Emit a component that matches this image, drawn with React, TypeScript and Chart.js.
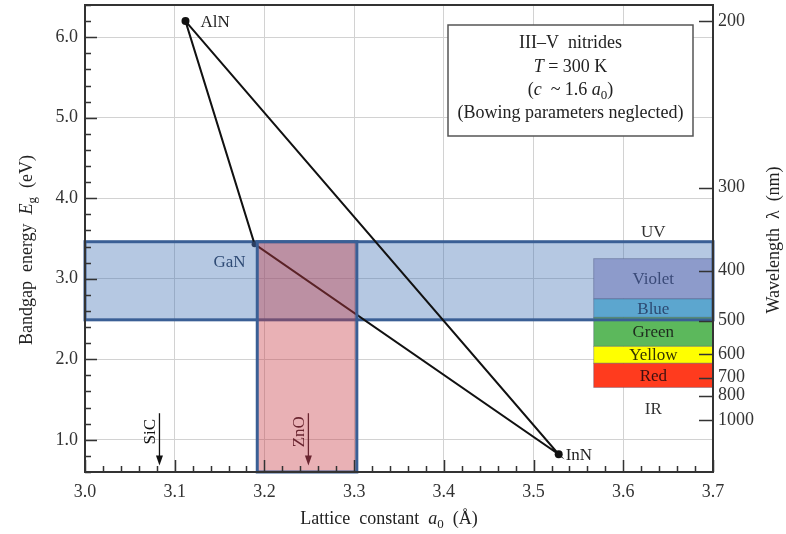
import React, { useEffect, useRef } from "react";
import { Chart, registerables } from "chart.js";

Chart.register(...registerables);

// ---- data ----
const materials = ["AlN", "GaN", "InN"];
const latticeA = [3.112, 3.189, 3.528];
const bandgapEg = [6.2, 3.43, 0.82];

const xTicks = [3.0, 3.1, 3.2, 3.3, 3.4, 3.5, 3.6, 3.7];
const yTicks = [1.0, 2.0, 3.0, 4.0, 5.0, 6.0];
const wavelengthTicks = [200, 300, 400, 500, 600, 700, 800, 1000];

const spectrumNames = ["Violet", "Blue", "Green", "Yellow", "Red"];
const spectrumTopEg = [3.25, 2.75, 2.52, 2.16, 1.95];
const spectrumBottomEg = [2.75, 2.52, 2.16, 1.95, 1.65];
const spectrumColors = ["#8d9bcb", "#5ca6cf", "#5cb85c", "#ffff00", "#ff3b1e"];
const spectrumTextColors = ["#3a4a78", "#2d4a72", "#1e2a1e", "#333300", "#3a1010"];
const spectrumA = [3.567, 3.7];

const blueWindowEg = [2.49, 3.46];
const blueWindowA = [3.0, 3.7];
const redWindowA = [3.192, 3.303];
const redWindowEg = [0.6, 3.46];

const substrates = ["SiC", "ZnO"];
const substrateA = [3.083, 3.249];

const FONT = '"Liberation Serif", "DejaVu Serif", serif';

type Part = { t: string; i?: boolean; sub?: boolean };

function drawRich(
  ctx: CanvasRenderingContext2D,
  parts: Part[],
  cx: number,
  cy: number,
  angle: number,
  size: number,
  color: string
) {
  ctx.save();
  ctx.translate(cx, cy);
  ctx.rotate(angle);
  ctx.fillStyle = color;
  ctx.textBaseline = "middle";
  ctx.textAlign = "left";
  const fontOf = (p: Part) =>
    `${p.i ? "italic " : ""}${p.sub ? Math.round(size * 0.72) : size}px ${FONT}`;
  let total = 0;
  const widths = parts.map((p) => {
    ctx.font = fontOf(p);
    const w = ctx.measureText(p.t).width;
    total += w;
    return w;
  });
  let x = -total / 2;
  parts.forEach((p, k) => {
    ctx.font = fontOf(p);
    ctx.fillText(p.t, x, p.sub ? size * 0.3 : 0);
    x += widths[k];
  });
  ctx.restore();
}

const overlay = {
  id: "overlay",
  beforeDatasetsDraw(chart: any) {
    const { ctx, scales } = chart;
    const xs = scales.x;
    const ys = scales.y;
    const X = (v: number) => xs.getPixelForValue(v);
    const Y = (v: number) => ys.getPixelForValue(v);
    ctx.save();
    const bx0 = X(blueWindowA[0]);
    const bx1 = X(blueWindowA[1]);
    const by0 = Y(blueWindowEg[1]);
    const by1 = Y(blueWindowEg[0]);
    ctx.fillStyle = "rgba(60,110,180,0.38)";
    ctx.fillRect(bx0, by0, bx1 - bx0, by1 - by0);
    spectrumNames.forEach((n, k) => {
      const x0 = X(spectrumA[0]);
      const x1 = X(spectrumA[1]);
      const y0 = Y(spectrumTopEg[k]);
      const y1 = Y(spectrumBottomEg[k]);
      ctx.fillStyle = spectrumColors[k];
      ctx.fillRect(x0, y0, x1 - x0, y1 - y0);
      ctx.strokeStyle = "rgba(60,70,110,0.35)";
      ctx.lineWidth = 1;
      ctx.strokeRect(x0, y0, x1 - x0, y1 - y0);
    });
    ctx.strokeStyle = "#3a5f95";
    ctx.lineWidth = 3;
    ctx.strokeRect(bx0, by0, bx1 - bx0, by1 - by0);
    ctx.restore();
  },
  afterDatasetsDraw(chart: any) {
    const { ctx, scales, chartArea } = chart;
    const xs = scales.x;
    const ys = scales.y;
    const ys2 = scales.y2;
    const X = (v: number) => xs.getPixelForValue(v);
    const Y = (v: number) => ys.getPixelForValue(v);
    ctx.save();
    const rx0 = X(redWindowA[0]);
    const rx1 = X(redWindowA[1]);
    const ry0 = Y(redWindowEg[1]);
    const ry1 = Y(redWindowEg[0]);
    ctx.fillStyle = "rgba(200,60,70,0.4)";
    ctx.fillRect(rx0, ry0, rx1 - rx0, ry1 - ry0);
    ctx.strokeStyle = "#3a5f95";
    ctx.lineWidth = 3;
    ctx.strokeRect(rx0, ry0, rx1 - rx0, ry1 - ry0);

    ctx.textAlign = "center";
    ctx.textBaseline = "middle";
    ctx.font = `17px ${FONT}`;
    const sx = (X(spectrumA[0]) + X(spectrumA[1])) / 2;
    spectrumNames.forEach((n, k) => {
      ctx.fillStyle = spectrumTextColors[k];
      ctx.fillText(n, sx, (Y(spectrumTopEg[k]) + Y(spectrumBottomEg[k])) / 2 + 1);
    });
    ctx.fillStyle = "#333";
    ctx.fillText("UV", sx, Y(3.57));
    ctx.fillText("IR", sx, Y(1.37));

    ctx.font = `17px ${FONT}`;
    ctx.fillStyle = "#222";
    ctx.textAlign = "left";
    ctx.fillText(materials[0], X(latticeA[0]) + 15, Y(bandgapEg[0]) + 1);
    ctx.fillStyle = "#2f4b75";
    ctx.textAlign = "right";
    ctx.fillText(materials[1], X(latticeA[1]) - 9, Y(bandgapEg[1]) + 18);
    ctx.fillStyle = "#222";
    ctx.textAlign = "left";
    ctx.fillText(materials[2], X(latticeA[2]) + 7, Y(bandgapEg[2]) + 1);

    substrates.forEach((s, k) => {
      const ax = X(substrateA[k]);
      const col = k === 0 ? "#111" : "#6a2530";
      const yTop = Y(1.33);
      const yTip = Y(0.68);
      ctx.strokeStyle = col;
      ctx.fillStyle = col;
      ctx.lineWidth = 1.3;
      ctx.beginPath();
      ctx.moveTo(ax, yTop);
      ctx.lineTo(ax, yTip - 8);
      ctx.stroke();
      ctx.beginPath();
      ctx.moveTo(ax - 3.5, yTip - 10);
      ctx.lineTo(ax + 3.5, yTip - 10);
      ctx.lineTo(ax, yTip);
      ctx.closePath();
      ctx.fill();
      drawRich(ctx, [{ t: s }], ax - 9, Y(1.1), -Math.PI / 2, 17, col);
    });

    const lx0 = 448, ly0 = 25, lx1 = 693, ly1 = 136;
    ctx.fillStyle = "#fff";
    ctx.fillRect(lx0, ly0, lx1 - lx0, ly1 - ly0);
    ctx.strokeStyle = "#555";
    ctx.lineWidth = 1.5;
    ctx.strokeRect(lx0, ly0, lx1 - lx0, ly1 - ly0);
    const lc = (lx0 + lx1) / 2;
    drawRich(ctx, [{ t: "III\u2013V  nitrides" }], lc, 43, 0, 18, "#222");
    drawRich(ctx, [{ t: "T", i: true }, { t: " = 300 K" }], lc, 67, 0, 18, "#222");
    drawRich(
      ctx,
      [{ t: "(" }, { t: "c", i: true }, { t: "  ~ 1.6 " }, { t: "a", i: true }, { t: "0", sub: true }, { t: ")" }],
      lc,
      90,
      0,
      18,
      "#222"
    );
    drawRich(ctx, [{ t: "(Bowing parameters neglected)" }], lc, 113, 0, 18, "#222");

    ctx.strokeStyle = "#333";
    ctx.lineWidth = 2;
    ctx.strokeRect(chartArea.left, chartArea.top, chartArea.right - chartArea.left, chartArea.bottom - chartArea.top);

    ctx.lineWidth = 1.5;
    ctx.beginPath();
    for (let i = 0; i <= 35; i++) {
      const v = 3.0 + i * 0.02;
      const px = Math.round(X(v)) + 0.5;
      const len = i % 5 === 0 ? 12 : 6;
      ctx.moveTo(px, chartArea.bottom);
      ctx.lineTo(px, chartArea.bottom - len);
    }
    for (let i = 0; i <= 29; i++) {
      const v = 0.6 + i * 0.2;
      const py = Math.round(Y(v)) + 0.5;
      const len = Math.abs(v - Math.round(v)) < 1e-6 ? 12 : 6;
      ctx.moveTo(chartArea.left, py);
      ctx.lineTo(chartArea.left + len, py);
    }
    wavelengthTicks.forEach((w) => {
      const py = Math.round(ys2.getPixelForValue(1240 / w)) + 0.5;
      ctx.moveTo(chartArea.right, py);
      ctx.lineTo(chartArea.right - 14, py);
    });
    ctx.stroke();

    drawRich(
      ctx,
      [{ t: "Lattice  constant  " }, { t: "a", i: true }, { t: "0", sub: true }, { t: "  (\u00c5)" }],
      389,
      519,
      0,
      18,
      "#222"
    );
    drawRich(
      ctx,
      [{ t: "Bandgap  energy  " }, { t: "E", i: true }, { t: "g", sub: true }, { t: "  (eV)" }],
      27,
      250,
      -Math.PI / 2,
      18,
      "#222"
    );
    drawRich(ctx, [{ t: "Wavelength  \u03bb  (nm)" }], 774, 240, -Math.PI / 2, 18, "#222");
    ctx.restore();
  },
};

export default function App() {
  const ref = useRef<HTMLCanvasElement | null>(null);
  useEffect(() => {
    if (!ref.current) return;
    Chart.defaults.font.family = FONT;
    const tri = [0, 1, 2, 0];
    const noVPad = (s: any) => {
      s.paddingTop = 0;
      s.paddingBottom = 0;
    };
    const chart = new Chart(ref.current, {
      type: "scatter",
      data: {
        datasets: [
          {
            data: tri.map((k) => ({ x: latticeA[k], y: bandgapEg[k] })),
            showLine: true,
            borderColor: "#111",
            borderWidth: 2,
            pointRadius: [4, 3, 4, 0],
            pointBackgroundColor: ["#111", "#2c3e60", "#111", "#111"],
            pointBorderWidth: 0,
          },
        ],
      },
      plugins: [overlay],
      options: {
        animation: false,
        responsive: false,
        devicePixelRatio: 1,
        layout: { padding: { top: 5, left: 0, right: 0, bottom: 0 } },
        plugins: { legend: { display: false }, tooltip: { enabled: false }, title: { display: false } },
        scales: {
          x: {
            type: "linear",
            min: 3.0,
            max: 3.7,
            afterBuildTicks: (s: any) => {
              s.ticks = xTicks.map((v) => ({ value: v }));
            },
            afterFit: (s: any) => {
              s.height = 62;
              s.paddingLeft = 0;
              s.paddingRight = 0;
            },
            ticks: {
              callback: (v: any) => Number(v).toFixed(1),
              font: { family: FONT, size: 18 },
              color: "#333",
              padding: 9,
              maxRotation: 0,
              autoSkip: false,
            },
            grid: { color: "#d2d2d2", lineWidth: 1, drawTicks: false },
            border: { display: false },
          },
          y: {
            type: "linear",
            position: "left",
            min: 0.6,
            max: 6.4,
            afterBuildTicks: (s: any) => {
              s.ticks = yTicks.map((v) => ({ value: v }));
            },
            afterFit: (s: any) => {
              s.width = 85;
              noVPad(s);
            },
            ticks: {
              callback: (v: any) => Number(v).toFixed(1),
              font: { family: FONT, size: 18 },
              color: "#333",
              padding: 7,
              autoSkip: false,
            },
            grid: { color: "#d2d2d2", lineWidth: 1, drawTicks: false },
            border: { display: false },
          },
          y2: {
            type: "linear",
            position: "right",
            min: 0.6,
            max: 6.4,
            afterBuildTicks: (s: any) => {
              s.ticks = wavelengthTicks.map((w) => ({ value: 1240 / w }));
            },
            afterFit: (s: any) => {
              s.width = 73;
              noVPad(s);
            },
            ticks: {
              callback: (_v: any, i: number) => String(wavelengthTicks[i]),
              font: { family: FONT, size: 18 },
              color: "#333",
              padding: 5,
              autoSkip: false,
            },
            grid: { display: false, drawTicks: false },
            border: { display: false },
          },
        },
      },
    });
    return () => chart.destroy();
  }, []);
  return (
    <div style={{ position: "fixed", left: 0, top: 0, width: 786, height: 534, background: "#fff" }}>
      <canvas ref={ref} width={786} height={534} style={{ width: 786, height: 534 }} />
    </div>
  );
}
